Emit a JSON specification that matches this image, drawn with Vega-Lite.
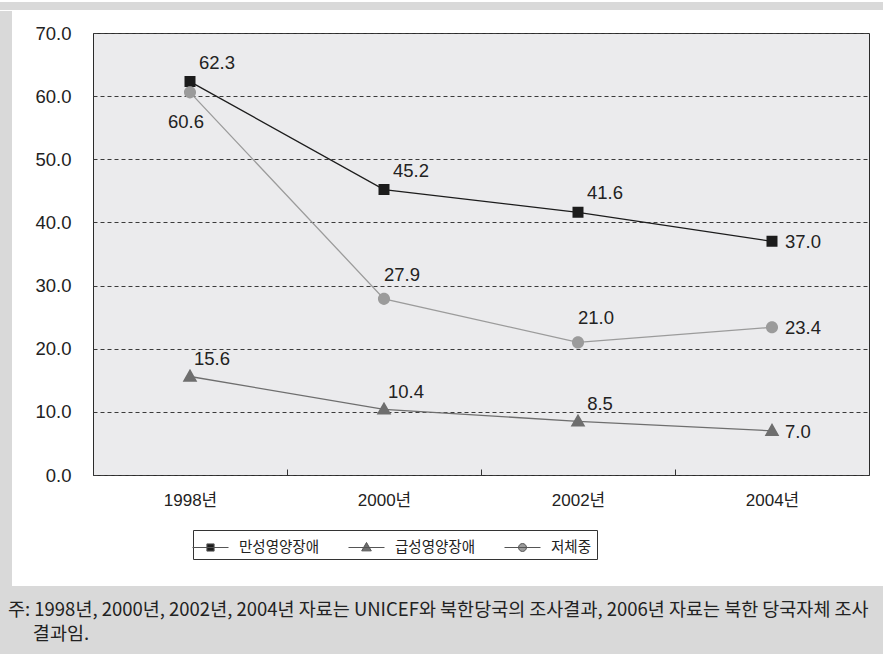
{
  "$schema": "https://vega.github.io/schema/vega-lite/v6.json",
  "background": "white",
  "padding": 0,
  "spacing": 0,
  "config": {
    "view": {"stroke": null},
    "font": "Liberation Sans, Noto Sans CJK KR",
    "title": {"fontWeight": "normal"}
  },
  "datasets": {
    "main": [
      {"year": "1998년", "series": "만성영양장애", "value": 62.3},
      {"year": "2000년", "series": "만성영양장애", "value": 45.2},
      {"year": "2002년", "series": "만성영양장애", "value": 41.6},
      {"year": "2004년", "series": "만성영양장애", "value": 37.0},
      {"year": "1998년", "series": "급성영양장애", "value": 15.6},
      {"year": "2000년", "series": "급성영양장애", "value": 10.4},
      {"year": "2002년", "series": "급성영양장애", "value": 8.5},
      {"year": "2004년", "series": "급성영양장애", "value": 7.0},
      {"year": "1998년", "series": "저체중", "value": 60.6},
      {"year": "2000년", "series": "저체중", "value": 27.9},
      {"year": "2002년", "series": "저체중", "value": 21.0},
      {"year": "2004년", "series": "저체중", "value": 23.4}
    ]
  },
  "resolve": {"scale": {"color": "independent", "shape": "independent", "stroke": "independent"}, "legend": {"color": "independent", "shape": "independent", "stroke": "independent"}},
  "vconcat": [
    {
      "width": 883,
      "height": 8,
      "view": {"fill": "#d9d9d9", "stroke": null},
      "data": {"values": [{}]},
      "mark": {"type": "text", "text": ""},
      "encoding": {}
    },
    {
      "spacing": 0,
      "resolve": {"scale": {"color": "independent", "shape": "independent", "stroke": "independent"}, "legend": {"color": "independent", "shape": "independent", "stroke": "independent"}},
      "hconcat": [
        {
          "width": 12,
          "height": 575,
          "view": {"fill": "#d9d9d9", "stroke": null},
          "data": {"values": [{}]},
          "mark": {"type": "text", "text": ""},
          "encoding": {}
        },
        {
          "spacing": 0,
          "resolve": {"scale": {"color": "independent", "shape": "independent", "stroke": "independent"}, "legend": {"color": "independent", "shape": "independent", "stroke": "independent"}},
          "vconcat": [
            {
              "width": 10,
              "height": 12,
              "view": {"stroke": null},
              "data": {"values": [{}]},
              "mark": {"type": "text", "text": ""},
              "encoding": {}
            },
            {
              "width": 776,
              "height": 442,
              "view": {"fill": "#ebebed", "stroke": "#2b2b2b", "strokeWidth": 1},
              "data": {"name": "main"},
              "encoding": {
                "x": {
                  "field": "year",
                  "type": "nominal",
                  "sort": ["1998년", "2000년", "2002년", "2004년"],
                  "scale": {"type": "band", "paddingInner": 0, "paddingOuter": 0},
                  "axis": {
                    "title": null,
                    "labelAngle": 0,
                    "domain": false,
                    "ticks": true,
                    "tickBand": "extent",
                    "tickSize": -6,
                    "tickColor": "#333",
                    "labelPadding": 23,
                    "labelFontSize": 17,
                    "labelColor": "#222",
                    "grid": false
                  }
                },
                "y": {
                  "field": "value",
                  "type": "quantitative",
                  "scale": {"domain": [0, 70], "nice": false},
                  "axis": {
                    "title": null,
                    "values": [0, 10, 20, 30, 40, 50, 60, 70],
                    "format": ".1f",
                    "domain": false,
                    "ticks": false,
                    "labelPadding": 22,
                    "labelFontSize": 18.5,
                    "labelColor": "#222",
                    "grid": true,
                    "gridColor": "#3a3a3a",
                    "gridDash": [4, 3],
                    "gridWidth": 1,
                    "minExtent": 80,
                    "maxExtent": 80
                  }
                }
              },
              "layer": [
                {
                  "mark": {"type": "line", "strokeWidth": 1.3},
                  "encoding": {
                    "stroke": {
                      "field": "series",
                      "type": "nominal",
                      "scale": {"domain": ["저체중", "급성영양장애", "만성영양장애"], "range": ["#9b9b9b", "#6e6e6e", "#1c1c1c"]},
                      "legend": null
                    }
                  }
                },
                {
                  "mark": {"type": "point", "filled": true, "opacity": 1, "size": 1344},
                  "encoding": {
                    "color": {
                      "field": "series",
                      "type": "nominal",
                      "scale": {"domain": ["만성영양장애", "급성영양장애", "저체중"], "range": ["#1c1c1c", "#6e6e6e", "#9b9b9b"]},
                      "legend": {
                        "title": null,
                        "orient": "none",
                        "legendX": 100,
                        "legendY": 497,
                        "direction": "horizontal",
                        "columns": 3,
                        "gridAlign": "each",
                        "columnPadding": 11,
                        "symbolSize": 576,
                        "symbolStrokeWidth": 1,
                        "symbolStrokeColor": "#555555",
                        "symbolFillColor": "#1c1c1c",
                        "symbolOpacity": 1,
                        "labelFontSize": 14.5,
                        "labelFont": "Noto Sans CJK KR",
                        "labelColor": "#222",
                        "labelOffset": 16,
                        "padding": 5,
                        "fillColor": "white",
                        "strokeColor": "#333"
                      }
                    },
                    "shape": {
                      "field": "series",
                      "type": "nominal",
                      "scale": {
                        "domain": ["만성영양장애", "급성영양장애", "저체중"],
                        "range": [
                          "M-2.75,0M-1.5,0H1.5M-0.3,-0.3H0.3V0.3H-0.3Z",
                          "M-2.75,0M-1.5,0H1.5M0,-0.42L0.4,0.28H-0.4Z",
                          "M-2.75,0M-1.5,0H1.5M-0.33,0A0.33,0.33,0,1,1,0.33,0A0.33,0.33,0,1,1,-0.33,0Z"
                        ]
                      },
                      "legend": {
                        "title": null,
                        "orient": "none",
                        "legendX": 100,
                        "legendY": 497,
                        "direction": "horizontal",
                        "columns": 3,
                        "gridAlign": "each",
                        "columnPadding": 11,
                        "symbolSize": 576,
                        "symbolStrokeWidth": 1,
                        "symbolStrokeColor": "#555555",
                        "symbolFillColor": "#1c1c1c",
                        "symbolOpacity": 1,
                        "labelFontSize": 14.5,
                        "labelFont": "Noto Sans CJK KR",
                        "labelColor": "#222",
                        "labelOffset": 16,
                        "padding": 5,
                        "fillColor": "white",
                        "strokeColor": "#333"
                      }
                    }
                  }
                },
                {
                  "transform": [{"filter": "datum.series == '만성영양장애' && datum.year != '2004년'"}],
                  "mark": {"type": "text", "align": "center", "baseline": "middle", "dx": 27, "dy": -19, "fontSize": 18.5, "font": "Liberation Sans", "color": "#222"},
                  "encoding": {"text": {"field": "value", "type": "quantitative", "format": ".1f"}}
                },
                {
                  "transform": [{"filter": "datum.series == '저체중' && datum.year != '2004년' && datum.year != '1998년'"}],
                  "mark": {"type": "text", "align": "center", "baseline": "middle", "dx": 18, "dy": -24, "fontSize": 18.5, "font": "Liberation Sans", "color": "#222"},
                  "encoding": {"text": {"field": "value", "type": "quantitative", "format": ".1f"}}
                },
                {
                  "transform": [{"filter": "datum.series == '급성영양장애' && datum.year != '2004년'"}],
                  "mark": {"type": "text", "align": "center", "baseline": "middle", "dx": 22, "dy": -17, "fontSize": 18.5, "font": "Liberation Sans", "color": "#222"},
                  "encoding": {"text": {"field": "value", "type": "quantitative", "format": ".1f"}}
                },
                {
                  "transform": [{"filter": "datum.year == '2004년'"}],
                  "mark": {"type": "text", "align": "left", "baseline": "middle", "dx": 13, "dy": 1, "fontSize": 18.5, "font": "Liberation Sans", "color": "#222"},
                  "encoding": {"text": {"field": "value", "type": "quantitative", "format": ".1f"}}
                },
                {
                  "transform": [{"filter": "datum.series == '저체중' && datum.year == '1998년'"}],
                  "mark": {"type": "text", "align": "center", "baseline": "middle", "dx": -4, "dy": 30, "fontSize": 18.5, "font": "Liberation Sans", "color": "#222"},
                  "encoding": {"text": {"field": "value", "type": "quantitative", "format": ".1f"}}
                }
              ]
            }
          ]
        }
      ]
    },
    {
      "width": 883,
      "height": 71,
      "view": {"fill": "#d9d9d9", "stroke": null},
      "data": {"values": [{}]},
      "mark": {"type": "text", "text": ""},
      "encoding": {},
      "title": {
        "text": ["주: 1998년, 2000년, 2002년, 2004년 자료는 UNICEF와 북한당국의 조사결과, 2006년 자료는 북한 당국자체 조사", "\u200b\u00a0\u00a0\u00a0\u00a0\u00a0\u00a0결과임."],
        "orient": "top",
        "anchor": "start",
        "frame": "group",
        "offset": -57,
        "dx": 8,
        "fontSize": 18.5,
        "lineHeight": 24,
        "font": "Noto Sans CJK KR",
        "color": "#222"
      }
    }
  ]
}
